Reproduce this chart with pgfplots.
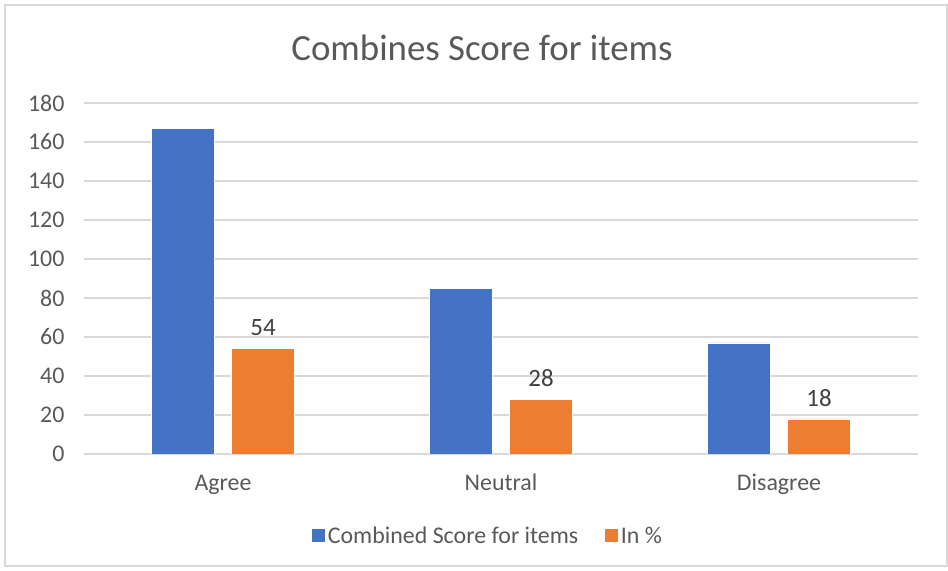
\documentclass[border=0pt]{standalone}
\usepackage{pgfplots}
\pgfplotsset{compat=1.18}
\usepackage{fontspec}
\setmainfont{Carlito}
\definecolor{cblue}{HTML}{4472C4}
\definecolor{corange}{HTML}{ED7D31}
\definecolor{txt}{HTML}{595959}
\definecolor{gridc}{HTML}{D9D9D9}
\begin{document}
\begin{tikzpicture}[x=1bp,y=1bp]
\useasboundingbox (0,0) rectangle (948,571);
\draw[gridc, line width=1.2bp] (5,5) rectangle (947,566);
\node[txt, font=\fontsize{37}{44}\selectfont] at (482,523) {Combines Score for items};
\begin{axis}[
  at={(84bp,117bp)}, anchor=south west,
  scale only axis, width=834bp, height=351bp,
  xmin=-0.5, xmax=2.5, ymin=0, ymax=180,
  ytick={0,20,...,180},
  xtick={0,1,2}, xticklabels={Agree,Neutral,Disagree},
  ybar, bar width=63bp,
  axis line style={draw=none},
  major tick length=0pt,
  ymajorgrids=true, xmajorgrids=false, grid style={color=gridc, line width=1.5bp},
  /pgf/number format/assume math mode=true,
  tick label style={txt, font=\fontsize{24}{28}\selectfont},
  yticklabel style={xshift=-16bp},
  xticklabel style={yshift=-25bp, text height=1.6ex, text depth=0.4ex},
  legend columns=2,
  legend style={draw=none, at={(0.484,-0.195)}, anchor=north, font=\fontsize{24}{28}\selectfont, text=txt,
    /tikz/every even column/.append style={column sep=24bp}},
  legend image code/.code={\fill[#1] (0bp,-7bp) rectangle (14bp,7bp);},
]
\addplot[fill=cblue, draw=white, line width=0.5bp, bar shift=-40bp] coordinates {(0,167) (1,85) (2,57)};
\addplot[fill=corange, draw=white, line width=0.5bp, bar shift=40bp,
  nodes near coords, nodes near coords style={text=black!75, font=\fontsize{25}{30}\selectfont, yshift=9bp}] coordinates {(0,54) (1,28) (2,18)};
\legend{Combined Score for items, In \%}
\end{axis}
\end{tikzpicture}
\end{document}
